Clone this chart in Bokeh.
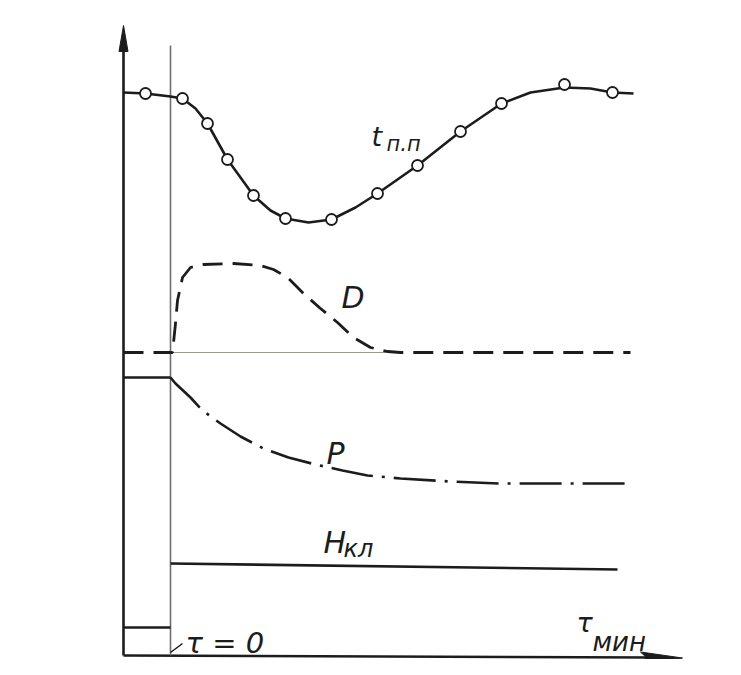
from bokeh.plotting import figure
from bokeh.models import Range1d, Label
from bokeh.embed import file_html
from bokeh.resources import INLINE

# time axis (min), t=0 at the disturbance
t_pp_tau = [-4.7, -2.5, 0.0, 1.2, 2.5, 3.7, 5.7, 8.3, 10.0, 11.5, 13.8, 16.1, 18.5,
            20.7, 24.7, 29.0, 33.1, 36.0, 39.4, 42.0, 44.2, 46.3]
t_pp_val = [56.3, 56.2, 55.9, 55.7, 54.7, 53.2, 49.6, 46.0, 44.5, 43.7, 43.3, 43.6, 44.8,
            46.2, 49.0, 52.4, 55.2, 56.3, 56.8, 56.7, 56.3, 56.2]
t_pp_pts_tau = [-2.5, 1.2, 3.7, 5.7, 8.3, 11.5, 16.1, 20.7, 24.7, 29.0, 33.1, 39.4, 44.2]
t_pp_pts_val = [56.2, 55.7, 53.2, 49.6, 46.0, 43.7, 43.6, 46.2, 49.0, 52.4, 55.2, 57.1, 56.3]

d_tau = [-4.7, 0.0, 0.2, 0.5, 0.7, 1.2, 2.0, 3.3, 6.3, 9.0, 10.3, 11.7, 13.3, 15.0,
         16.7, 18.3, 20.0, 21.7, 23.0, 46.0]
d_val = [30.3, 30.3, 30.3, 33.2, 35.5, 37.8, 38.8, 39.1, 39.2, 39.0, 38.6, 37.8, 36.2, 34.7,
         33.3, 31.8, 30.8, 30.4, 30.3, 30.3]
d_base_tau = [0.0, 22.0]
d_base_val = [30.3, 30.3]

p_pre_tau = [-4.7, 0.0]
p_pre_val = [27.8, 27.8]
p_tau = [0.0, 0.5, 2.0, 3.2, 5.0, 7.0, 9.3, 11.8, 14.5, 17.2, 19.7, 23.0, 28.0, 33.0, 39.0, 46.3]
p_val = [27.8, 27.2, 25.8, 24.5, 23.2, 21.9, 20.7, 19.8, 19.1, 18.5, 18.0, 17.7, 17.4, 17.2, 17.2, 17.2]

h_pre_tau = [-4.7, 0.0]
h_pre_val = [2.8, 2.8]
h_tau = [0.0, 44.7]
h_val = [9.2, 8.6]

y_axis_x = -4.7
y_axis_top = 63.0
x_axis_end = 51.2
zero_line_top = 61.0

ink = "#1c1c1c"
FONT = "DejaVu Sans"

p = figure(width=725, height=659, output_backend="svg", toolbar_location=None,
           x_range=Range1d(-17.0, 55.5), y_range=Range1d(-0.4, 65.5),
           min_border=0, background_fill_color="white", border_fill_color="white")
p.axis.visible = False
p.grid.visible = False
p.outline_line_color = None

# axes
p.line([y_axis_x, y_axis_x], [0, y_axis_top - 2.0], line_color=ink, line_width=2.6)
p.patch([y_axis_x - 0.45, y_axis_x, y_axis_x + 0.45],
        [y_axis_top - 2.6, y_axis_top, y_axis_top - 2.6], color=ink)
p.line([y_axis_x, x_axis_end - 3.0], [0, -0.2], line_color=ink, line_width=2.4)
p.patch([x_axis_end - 4.2, x_axis_end, x_axis_end - 4.2, x_axis_end - 3.6],
        [0.35, -0.25, -0.75, -0.2], color=ink)
# t = 0 line
p.line([0, 0], [0, zero_line_top], line_color="#6e6e6e", line_width=1.6)
p.line([0.0, 1.2], [0.3, 1.2], line_color=ink, line_width=1.5)

# H_kl
p.line(h_pre_tau, h_pre_val, line_color=ink, line_width=2.4)
p.line(h_tau, h_val, line_color=ink, line_width=2.6)

# P
p.line(p_pre_tau, p_pre_val, line_color=ink, line_width=2.6)
p.line(p_tau, p_val, line_color=ink, line_width=2.6, line_dash="42 9 3 9")

# D
p.line(d_base_tau, d_base_val, line_color="#9a9a8a", line_width=1.2)
p.line(d_tau, d_val, line_color=ink, line_width=2.8, line_dash="20 10")

# t_pp
p.line(t_pp_tau, t_pp_val, line_color=ink, line_width=2.6)
p.scatter(t_pp_pts_tau, t_pp_pts_val, size=11, fill_color="white",
          line_color=ink, line_width=1.8)

def lab(x, y, s, size):
    p.add_layout(Label(x=x, y=y, text=s, text_font=FONT, text_font_style="italic",
                       text_font_size=f"{size}px", text_color=ink,
                       text_baseline="alphabetic", text_align="left"))

lab(20.1, 51.9, "t", 27)
lab(21.6, 51.2, "п.п", 21)
lab(17.1, 35.8, "D", 30)
lab(15.6, 20.2, "P", 30)
lab(15.3, 11.3, "H", 30)
lab(17.3, 10.7, "кл", 24)
lab(40.6, 3.3, "τ", 27)
lab(42.2, 1.4, "мин", 26)
lab(1.5, 1.3, "τ = 0", 29)

open("out.html", "w").write(file_html(p, INLINE))
